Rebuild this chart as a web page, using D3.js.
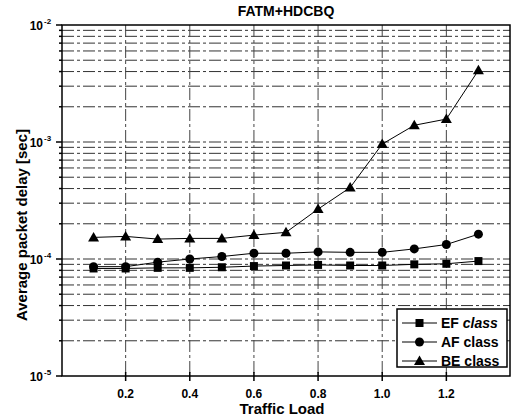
<!DOCTYPE html>
<html>
<head>
<meta charset="utf-8">
<script src="https://cdn.jsdelivr.net/npm/d3@7"></script>
<style>
    body { margin: 0; background: #fff; }
    text { font-family: "Liberation Sans", Arial, sans-serif; font-weight: bold; fill: #000; }
</style>
</head>
<body>
<svg id="fig" width="513" height="418"></svg>
<script>
// data
const loads = [0.1, 0.2, 0.3, 0.4, 0.5, 0.6, 0.7, 0.8, 0.9, 1.0, 1.1, 1.2, 1.3];
const efDelay = [8.3e-5, 8.3e-5, 8.4e-5, 8.4e-5, 8.5e-5, 8.7e-5, 8.8e-5, 8.9e-5, 8.8e-5, 8.8e-5, 9.0e-5, 9.1e-5, 9.6e-5];
const afDelay = [8.6e-5, 8.6e-5, 9.4e-5, 1.0e-4, 1.05e-4, 1.12e-4, 1.12e-4, 1.15e-4, 1.14e-4, 1.14e-4, 1.22e-4, 1.33e-4, 1.63e-4];
const beDelay = [1.53e-4, 1.56e-4, 1.48e-4, 1.5e-4, 1.5e-4, 1.6e-4, 1.69e-4, 2.67e-4, 4.08e-4, 9.6e-4, 1.39e-3, 1.57e-3, 4.1e-3];
const seriesNames = ["EF class", "AF class", "BE class"];
const seriesShapes = ["square", "circle", "triangle"];
const xTicks = [0.2, 0.4, 0.6, 0.8, 1.0, 1.2];
const yDecades = [-5, -4, -3, -2];

const svg = d3.select("#fig");
const mLeft = 62, mRight = 510, mTop = 25, mBottom = 376;

let xScale = d3.scaleLinear().domain([0, 1.4]).range([mLeft - 0.5, mRight + 0.5]);
let yScale = d3.scaleLog().domain([1e-5, 1e-2]).range([mBottom, mTop]);

// grid: every 1..9 of each decade, dash-dot
const gridVals = [];
for (let d = -5; d < -2; d++) {
    for (let m = 1; m < 10; m++) gridVals.push({v: m * Math.pow(10, d), major: m === 1});
}
gridVals.push({v: 1e-2, major: true});

svg.append("g").selectAll("line")
    .data(gridVals.filter(d => d.v > 1e-5 && d.v < 1e-2))
    .join("line")
    .attr("x1", mLeft).attr("x2", mRight)
    .attr("y1", d => yScale(d.v)).attr("y2", d => yScale(d.v))
    .attr("stroke", "#333").attr("stroke-width", 1)
    .attr("stroke-dasharray", "12,3,3,3");

svg.append("g").selectAll("line")
    .data(xTicks)
    .join("line")
    .attr("x1", d => xScale(d)).attr("x2", d => xScale(d))
    .attr("y1", mTop).attr("y2", mBottom)
    .attr("stroke", "#444").attr("stroke-width", 1)
    .attr("stroke-dasharray", "12,3,3,3");

// frame
svg.append("rect")
    .attr("x", mLeft).attr("y", mTop)
    .attr("width", mRight - mLeft).attr("height", mBottom - mTop)
    .attr("fill", "none").attr("stroke", "#000").attr("stroke-width", 1.5);

// y ticks (outward), major + minor
svg.append("g").selectAll("line")
    .data(gridVals)
    .join("line")
    .attr("x1", d => mLeft - (d.major ? 6 : 3))
    .attr("x2", mLeft)
    .attr("y1", d => yScale(d.v)).attr("y2", d => yScale(d.v))
    .attr("stroke", "#000").attr("stroke-width", 1.5);

// y tick labels 10^n
svg.append("g").selectAll("text")
    .data(yDecades)
    .join("text")
    .attr("x", 43).attr("y", d => yScale(Math.pow(10, d)) + 5)
    .attr("text-anchor", "end")
    .style("font-size", "12px")
    .text("10");
svg.append("g").selectAll("text")
    .data(yDecades)
    .join("text")
    .attr("x", 44).attr("y", d => yScale(Math.pow(10, d)) - 1)
    .style("font-size", "8px")
    .text(d => "-" + (-d));

// x ticks and labels
svg.append("g").selectAll("line")
    .data(xTicks)
    .join("line")
    .attr("x1", d => xScale(d)).attr("x2", d => xScale(d))
    .attr("y1", mBottom - 4).attr("y2", mBottom + 5)
    .attr("stroke", "#000").attr("stroke-width", 1.5);

svg.append("g").selectAll("text")
    .data(xTicks)
    .join("text")
    .attr("x", d => xScale(d)).attr("y", 398)
    .attr("text-anchor", "middle")
    .style("font-size", "12px")
    .text(d => d.toFixed(1));

// titles
svg.append("text")
    .attr("x", (mLeft + mRight) / 2).attr("y", 16)
    .attr("text-anchor", "middle")
    .style("font-size", "14px")
    .text("FATM+HDCBQ");

svg.append("text")
    .attr("x", 282).attr("y", 414)
    .attr("text-anchor", "middle")
    .style("font-size", "15px")
    .text("Traffic Load");

svg.append("text")
    .attr("transform", "translate(27,225) rotate(-90)")
    .attr("text-anchor", "middle")
    .style("font-size", "15px")
    .text("Average packet delay [sec]");

// markers
function drawMarker(g, shape, x, y) {
    if (shape === "square") {
        g.append("rect").attr("x", x - 4).attr("y", y - 4).attr("width", 8).attr("height", 8).attr("fill", "#000");
    } else if (shape === "circle") {
        g.append("circle").attr("cx", x).attr("cy", y).attr("r", 4.5).attr("fill", "#000");
    } else {
        g.append("path").attr("d", `M${x},${y - 5.5}L${x + 5.5},${y + 4}L${x - 5.5},${y + 4}Z`).attr("fill", "#000");
    }
}

const allSeries = [efDelay, afDelay, beDelay];
let line = d3.line().x((d, i) => xScale(loads[i])).y(d => yScale(d));

allSeries.forEach((vals, k) => {
    let g = svg.append("g");
    g.append("path")
        .attr("d", line(vals))
        .attr("fill", "none").attr("stroke", "#000").attr("stroke-width", 1);
    vals.forEach((v, i) => drawMarker(g, seriesShapes[k], xScale(loads[i]), yScale(v)));
});

// legend
const lg = svg.append("g");
lg.append("rect")
    .attr("x", 397).attr("y", 309).attr("width", 110).attr("height", 58)
    .attr("fill", "#fff").attr("stroke", "#000").attr("stroke-width", 1.5);
seriesNames.forEach((name, k) => {
    const yy = 323 + k * 19;
    lg.append("line").attr("x1", 402).attr("x2", 437).attr("y1", yy).attr("y2", yy)
        .attr("stroke", "#000").attr("stroke-width", 1);
    drawMarker(lg, seriesShapes[k], 419.5, yy);
    let t = lg.append("text").attr("x", 441).attr("y", yy + 5).style("font-size", "14px");
    const parts = name.split(" ");
    t.append("tspan").text(parts[0] + " ");
    t.append("tspan").style("font-style", k === 0 ? "italic" : "normal").text(parts[1]);
});
</script>
</body>
</html>
